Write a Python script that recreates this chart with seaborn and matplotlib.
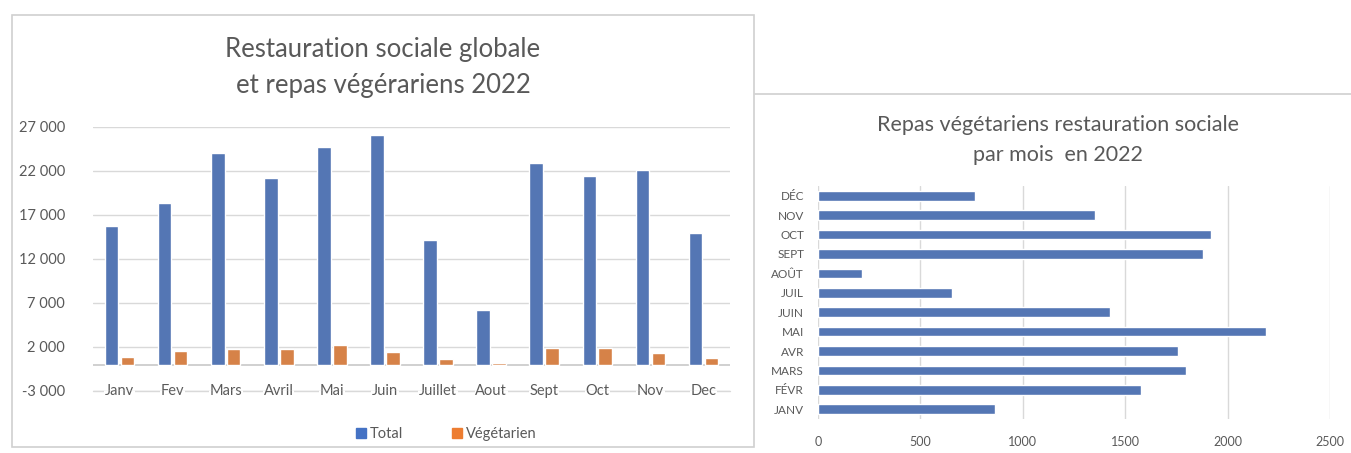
import pandas as pd
import matplotlib.pyplot as plt
import seaborn as sns
from matplotlib.patches import Rectangle
from matplotlib.lines import Line2D

sns.set_style("white")
plt.rcParams['font.family'] = ['Lato', 'DejaVu Sans']

# --- data ---
mois = ["Janv", "Fev", "Mars", "Avril", "Mai", "Juin",
        "Juillet", "Aout", "Sept", "Oct", "Nov", "Dec"]
total = [15800, 18400, 24000, 21200, 24700, 26100,
         14200, 6200, 22900, 21400, 22100, 14900]
vegetarien = [865, 1576, 1799, 1759, 2189, 1426,
              652, 213, 1882, 1920, 1352, 765]
mois_maj = ["JANV", "FÉVR", "MARS", "AVR", "MAI", "JUIN",
            "JUIL", "AOÛT", "SEPT", "OCT", "NOV", "DÉC"]
y_ticks = [-3000, 2000, 7000, 12000, 17000, 22000, 27000]
x_ticks = [0, 500, 1000, 1500, 2000, 2500]

BLUE = "#4472C4"
ORANGE = "#ED7D31"
GREY_TXT = "#595959"
GRID = "#d9d9d9"

df = pd.DataFrame({
    "mois": mois * 2,
    "serie": ["Total"] * 12 + ["Végétarien"] * 12,
    "valeur": total + vegetarien,
})

fig = plt.figure(figsize=(13.51, 4.53), dpi=100)

# chart borders
fig.patches.append(Rectangle((12 / 1351, 1 - 447 / 453), 742 / 1351, 432 / 453,
                             transform=fig.transFigure, fill=False,
                             edgecolor="#d0d0d0", lw=1.2))
fig.lines.append(Line2D([755 / 1351, 1], [1 - 94 / 453] * 2,
                        transform=fig.transFigure, color="#d0d0d0", lw=1.2))

# --- left chart: total vs vegetarian ---
ax1 = fig.add_axes([93 / 1351, 1 - 391 / 453, 637 / 1351, 264 / 453])
sns.barplot(data=df, x="mois", y="valeur", hue="serie", order=mois,
            hue_order=["Total", "Végétarien"], palette=[BLUE, ORANGE],
            width=0.6, gap=0.15, ax=ax1, legend=False)
ax1.set_ylim(-3000, 27000)
ax1.set_yticks(y_ticks)
ax1.set_yticklabels([f"{v:,}".replace(",", " ") for v in y_ticks],
                    color=GREY_TXT, fontsize=10.5)
ax1.yaxis.grid(True, color=GRID, lw=1)
ax1.set_axisbelow(True)
ax1.axhline(0, color="#c8c8c8", lw=1.2, zorder=0.5)
ax1.axhline(-3000, color=GRID, lw=1, zorder=0.5, clip_on=False)
for s in ax1.spines.values():
    s.set_visible(False)
ax1.set_xlabel("")
ax1.set_ylabel("")
ax1.tick_params(axis="both", length=0)
ax1.tick_params(axis="y", pad=20)
ax1.tick_params(axis="x", pad=0)
for lab in ax1.get_yticklabels():
    lab.set_horizontalalignment("right")
for lab in ax1.get_xticklabels():
    lab.set_verticalalignment("center")
    lab.set_color(GREY_TXT)
    lab.set_fontsize(10.5)
    lab.set_bbox(dict(facecolor="white", edgecolor="none", pad=0.5))
fig.text(383 / 1351, 1 - 50 / 453, "Restauration sociale globale",
         ha="center", va="center", fontsize=18.5, color=GREY_TXT)
fig.text(383 / 1351, 1 - 85 / 453, "et repas végérariens 2022",
         ha="center", va="center", fontsize=18.5, color=GREY_TXT)

handles = [Line2D([], [], marker="s", ls="", color=BLUE, markersize=7),
           Line2D([], [], marker="s", ls="", color=ORANGE, markersize=7)]
fig.legend(handles, ["Total", "Végétarien"], loc="center",
           bbox_to_anchor=(445 / 1351, 1 - 434 / 453), ncol=2, frameon=False,
           fontsize=10.5, labelcolor=GREY_TXT, handletextpad=0.1,
           columnspacing=3.2, handlelength=1.0)

# --- right chart: vegetarian meals per month ---
ax2 = fig.add_axes([818 / 1351, 1 - 419 / 453, 512 / 1351, 233 / 453])
sns.barplot(x=vegetarien, y=mois_maj, order=mois_maj[::-1], color=BLUE,
            width=0.5, orient="h", ax=ax2)
ax2.set_xlim(0, 2500)
ax2.set_xticks(x_ticks)
ax2.set_xticklabels([str(v) for v in x_ticks], color=GREY_TXT, fontsize=9)
ax2.xaxis.grid(True, color=GRID, lw=1)
ax2.set_axisbelow(True)
for s in ax2.spines.values():
    s.set_visible(False)
ax2.tick_params(axis="both", length=0)
ax2.tick_params(axis="x", pad=12)
ax2.tick_params(axis="y", pad=10)
for lab in ax2.get_yticklabels():
    lab.set_color(GREY_TXT)
    lab.set_fontsize(8.5)
ax2.set_xlabel("")
ax2.set_ylabel("")
fig.text(1058 / 1351, 1 - 125 / 453, "Repas végétariens restauration sociale",
         ha="center", va="center", fontsize=15.5, color=GREY_TXT)
fig.text(1058 / 1351, 1 - 155 / 453, "par mois  en 2022",
         ha="center", va="center", fontsize=15.5, color=GREY_TXT)

fig.savefig("out.png", dpi=100)
